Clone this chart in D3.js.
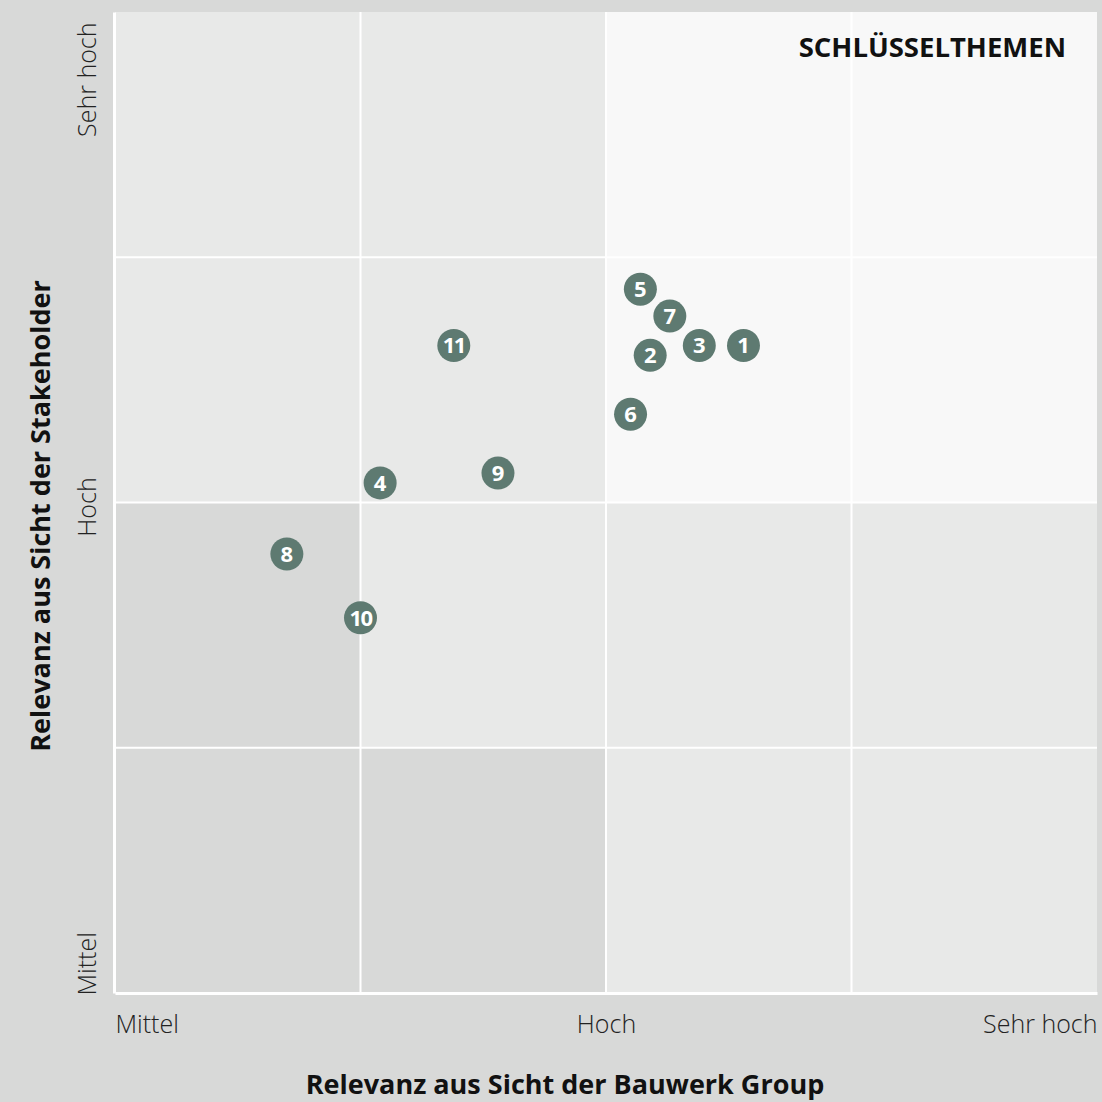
<!DOCTYPE html>
<html>
<head>
<meta charset="utf-8">
<script src="https://cdn.jsdelivr.net/npm/d3@7"></script>
<style>
  html, body { margin: 0; padding: 0; background: #d8d9d8; }
  svg { display: block; }
  text { font-family: "Open Sans", "Noto Sans", sans-serif; }
</style>
</head>
<body>
<svg id="chart" width="1102" height="1102"></svg>
<script>
// Relevance levels on both axes
const levelValues = [1, 2, 3];
const levelLabels = ["Mittel", "Hoch", "Sehr hoch"];
const gridValues = [1.5, 2, 2.5];

// Topics: id, relevance for Bauwerk Group (x), relevance for stakeholders (y)
const topicIds = [1, 2, 3, 4, 5, 6, 7, 8, 9, 10, 11];
const companyRelevance = [2.28, 2.09, 2.19, 1.54, 2.07, 2.05, 2.13, 1.35, 1.78, 1.50, 1.69];
const stakeholderRelevance = [2.32, 2.30, 2.32, 2.04, 2.435, 2.18, 2.38, 1.895, 2.06, 1.765, 2.32];

const xTitle = "Relevanz aus Sicht der Bauwerk Group";
const yTitle = "Relevanz aus Sicht der Stakeholder";
const keyTitle = "SCHLÜSSELTHEMEN";

const svg = d3.select("#chart");
const plotLeft = 115, plotRight = 1097, plotTop = 12, plotBottom = 993;

const x = d3.scaleLinear().domain([1, 3]).range([plotLeft, plotRight]);
const y = d3.scaleLinear().domain([1, 3]).range([plotBottom, plotTop]);

// Background cells: 4x4 grid, shaded by relevance band
const edges = [1, 1.5, 2, 2.5, 3];
const cells = [];
for (let c = 0; c < 4; c++) {
  for (let r = 0; r < 4; r++) {
    let fill = "#e8e9e8";
    if (c + r <= 1) fill = "#d8d9d8";
    else if (c >= 2 && r >= 2) fill = "#f8f8f8";
    cells.push({ x0: edges[c], x1: edges[c + 1], y0: edges[r], y1: edges[r + 1], fill });
  }
}
svg.append("g").selectAll("rect").data(cells).join("rect")
  .attr("x", d => x(d.x0))
  .attr("y", d => y(d.y1))
  .attr("width", d => x(d.x1) - x(d.x0))
  .attr("height", d => y(d.y0) - y(d.y1))
  .attr("fill", d => d.fill);

// Grid lines
const grid = svg.append("g").attr("stroke", "#ffffff").attr("stroke-width", 2);
grid.selectAll("line.v").data(gridValues).join("line").attr("class", "v")
  .attr("x1", d => x(d)).attr("x2", d => x(d)).attr("y1", plotTop).attr("y2", plotBottom);
grid.selectAll("line.h").data(gridValues).join("line").attr("class", "h")
  .attr("y1", d => y(d)).attr("y2", d => y(d)).attr("x1", plotLeft).attr("x2", plotRight);

// Axes (white baseline, no ticks)
const xAxis = svg.append("g")
  .attr("transform", `translate(0,${plotBottom})`)
  .call(d3.axisBottom(x).tickValues(levelValues).tickFormat((d, i) => levelLabels[i]).tickSize(0).tickPadding(0));
xAxis.select(".domain").attr("stroke", "#ffffff").attr("stroke-width", 3);
xAxis.selectAll(".tick text")
  .attr("fill", "#222")
  .attr("font-size", 25)
  .attr("font-weight", 300)
  .attr("dy", 0)
  .attr("y", 40)
  .attr("text-anchor", (d, i) => i === 0 ? "start" : i === levelValues.length - 1 ? "end" : "middle");

const yAxis = svg.append("g")
  .attr("transform", `translate(${plotLeft - 1},0)`)
  .call(d3.axisLeft(y).tickValues(levelValues).tickFormat((d, i) => levelLabels[i]).tickSize(0).tickPadding(0));
yAxis.select(".domain").attr("stroke", "#ffffff").attr("stroke-width", 3);
yAxis.selectAll(".tick text")
  .attr("fill", "#222")
  .attr("font-size", 25)
  .attr("font-weight", 300)
  .attr("x", null).attr("dy", 0)
  .attr("transform", (d, i) => `translate(-18,${i === 0 ? 2 : i === 2 ? 10 : 4}) rotate(-90)`)
  .attr("text-anchor", (d, i) => i === 0 ? "start" : i === levelValues.length - 1 ? "end" : "middle");

// Axis titles
svg.append("text")
  .attr("x", 565).attr("y", 1094)
  .attr("text-anchor", "middle")
  .attr("font-size", 27).attr("font-weight", 700).attr("fill", "#111")
  .text(xTitle);
svg.append("text")
  .attr("transform", `translate(50,516) rotate(-90)`)
  .attr("text-anchor", "middle")
  .attr("font-size", 27).attr("font-weight", 700).attr("fill", "#111")
  .text(yTitle);

// Key-topic quadrant label
svg.append("text")
  .attr("x", 1066).attr("y", 57)
  .attr("text-anchor", "end")
  .attr("font-size", 27.5).attr("font-weight", 700).attr("fill", "#111")
  .text(keyTitle);

// Topic markers
const topics = topicIds.map((id, i) => ({ id, cx: companyRelevance[i], cy: stakeholderRelevance[i] }));
const marks = svg.append("g").selectAll("g").data(topics).join("g")
  .attr("transform", d => `translate(${x(d.cx)},${y(d.cy)})`);
marks.append("circle").attr("r", 16.5).attr("fill", "#5e7a71");
marks.append("text")
  .attr("text-anchor", "middle")
  .attr("dy", "0.36em")
  .attr("font-size", 22).attr("font-weight", 700).attr("fill", "#ffffff")
  .attr("letter-spacing", d => d.id >= 10 ? -1.5 : 0)
  .text(d => d.id);
</script>
</body>
</html>
